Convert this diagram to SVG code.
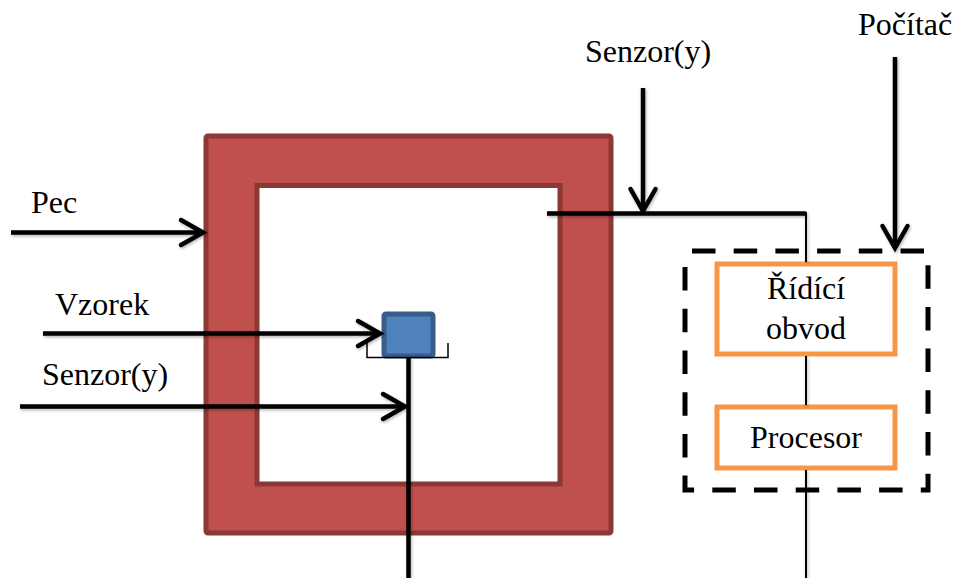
<svg xmlns="http://www.w3.org/2000/svg" width="956" height="578" viewBox="0 0 956 578">
<style>
  .lbl { font-family: "Times New Roman", "Liberation Serif", Tinos, "DejaVu Serif", serif; font-size: 32px; fill: #000; }
  .ctr { text-anchor: middle; }
  .thick { stroke: #000; stroke-width: 4.5; fill: none; }
  .thin { stroke: #000; stroke-width: 2; fill: none; }
  .box { fill: #fff; stroke: #f79646; stroke-width: 5; }
</style>
<defs>
  <marker id="chev" markerUnits="userSpaceOnUse" markerWidth="40" markerHeight="40" viewBox="-30 -20 40 40" refX="0" refY="0" orient="auto">
    <path d="M -22 -12.5 L 0 0 L -22 12.5" fill="none" stroke="#000" stroke-width="4.5" stroke-linecap="round" stroke-linejoin="miter"/>
  </marker>
  <filter id="sh" x="-10%" y="-10%" width="120%" height="120%">
    <feDropShadow dx="1" dy="1.5" stdDeviation="1.5" flood-color="#000" flood-opacity="0.3"/>
  </filter>
</defs>
<rect width="956" height="578" fill="#fff"/>

<g id="pec">
  <rect x="206" y="136" width="405" height="397" rx="2" fill="#c0504d" stroke="#8c3836" stroke-width="5"/>
  <rect x="257" y="185.5" width="303" height="298.5" fill="#fff" stroke="#8c3836" stroke-width="5"/>
</g>

<g id="vzorek">
  <rect x="384" y="314" width="49" height="42" rx="2" fill="#4f81bd" stroke="#385d8a" stroke-width="5"/>
  <path d="M 367 343 L 367 357.5 L 448 357.5 L 448 343" fill="none" stroke="#000" stroke-width="1.5"/>
</g>

<g id="pocitac">
  <rect x="685" y="251" width="243" height="239" fill="none" stroke="#000" stroke-width="5" stroke-dasharray="23.5 18.2" stroke-dashoffset="34.7"/>
</g>

<g id="ridici">
  <rect class="box" x="717" y="264" width="178" height="90"/>
  <text class="lbl ctr" x="806" y="299">Řídící</text>
  <text class="lbl ctr" x="806" y="339">obvod</text>
</g>

<g id="procesor">
  <rect class="box" x="717" y="407" width="178" height="61"/>
  <text class="lbl ctr" x="806" y="448">Procesor</text>
</g>

<g id="labels">
  <text class="lbl" x="31" y="213">Pec</text>
  <text class="lbl" x="55" y="315">Vzorek</text>
  <text class="lbl" x="42" y="385">Senzor(y)</text>
  <text class="lbl" x="585" y="62">Senzor(y)</text>
  <text class="lbl" x="858" y="35">Počítač</text>
</g>

<g id="connectors" filter="url(#sh)">
  <line class="thick" x1="11" y1="232.5" x2="203" y2="232.5" marker-end="url(#chev)"/>
  <line class="thick" x1="43" y1="333.5" x2="380" y2="333.5" marker-end="url(#chev)"/>
  <line class="thick" x1="20" y1="406.5" x2="405" y2="406.5" marker-end="url(#chev)"/>
  <line class="thick" x1="408.5" y1="357" x2="408.5" y2="578"/>
  <line class="thick" x1="643" y1="88" x2="643" y2="211" marker-end="url(#chev)"/>
  <path class="thick" d="M 547 213.5 L 806 213.5"/>
  <line class="thin" x1="806" y1="212" x2="806" y2="262"/>
  <line class="thin" x1="806" y1="356" x2="806" y2="405"/>
  <line class="thin" x1="806" y1="470" x2="806" y2="578"/>
  <line class="thick" x1="895" y1="57" x2="895" y2="248" marker-end="url(#chev)"/>
</g>
</svg>
